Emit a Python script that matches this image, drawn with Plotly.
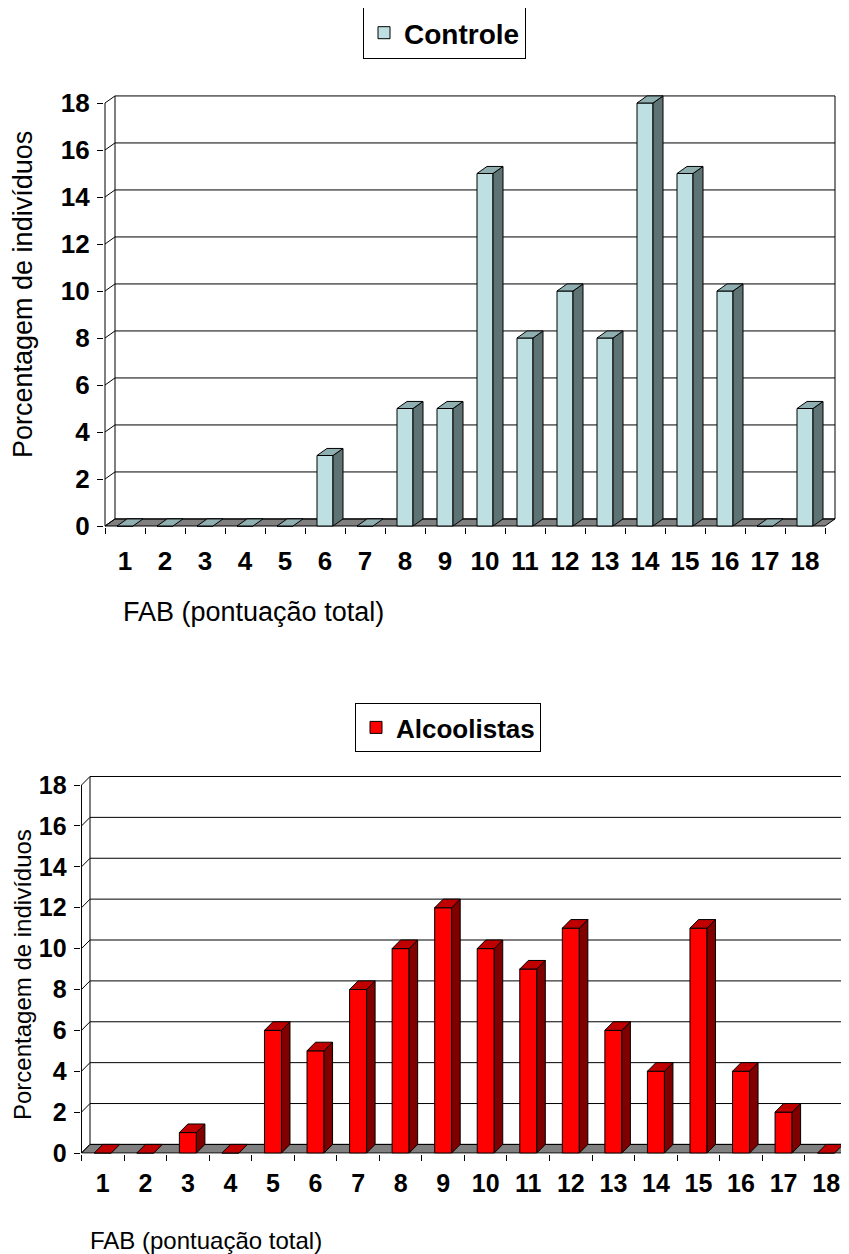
import plotly.graph_objects as go

# ---------------- data ----------------
categories = list(range(1, 19))
tick_labels = [str(c) for c in categories]
controle = [0, 0, 0, 0, 0, 3, 0, 5, 5, 15, 8, 10, 8, 18, 15, 10, 0, 5]
alcoolistas = [0, 0, 1, 0, 6, 5, 8, 10, 12, 10, 9, 11, 6, 4, 11, 4, 2, 0]
y_ticks = list(range(0, 19, 2))
series_names = ["Controle", "Alcoolistas"]
y_title = "Porcentagem de indivíduos"
x_title = "FAB (pontuação total)"

W, H = 849, 1254
OFF = 8  # page body margin offset compensation
FONT = "Arial, Liberation Sans, sans-serif"
BAR_W = 0.4

charts = [
    dict(name=series_names[0], values=controle,
         front="#BEE0E3", side="#5E7373", top="#8FAFB1",
         xpx0=105, cpx=40.0, dx=0.25, xlo=0.47, xhi=18.8,
         ypx0=526, upx=23.5, dy=0.3, ylo=-0.04, yhi=18.36,
         ax="", leg="legend", leg_x=363, leg_y=7, leg_size=28,
         tick_size=26, xstand=16, ytitle_size=27, xtitle_size=27,
         yt_x=23, yt_y=295, xt_x=121, xt_y=612),
    dict(name=series_names[1], values=alcoolistas,
         front="#FF0000", side="#800000", top="#C00000",
         xpx0=81.5, cpx=42.55, dx=0.2, xlo=0.48, xhi=None,
         ypx0=1153, upx=20.44, dy=0.42, ylo=-0.04, yhi=18.47,
         ax="2", leg="legend2", leg_x=355, leg_y=703, leg_size=26,
         tick_size=25, xstand=12, ytitle_size=24, xtitle_size=24,
         yt_x=22, yt_y=975, xt_x=88, xt_y=1240),
]

fig = go.Figure()
shapes = []
annotations = []
layout_extra = {}

for ch in charts:
    xa = "x" + ch["ax"]
    ya = "y" + ch["ax"]
    dx, dy = ch["dx"], ch["dy"]
    cpx, upx = ch["cpx"], ch["upx"]
    xp0 = ch["xpx0"] - OFF
    yp0 = ch["ypx0"] - OFF
    xhi = ch["xhi"] if ch["xhi"] is not None else 0.5 + (W - xp0) / cpx
    left_px = xp0 + (ch["xlo"] - 0.5) * cpx
    right_px = min(W, xp0 + (xhi - 0.5) * cpx)
    bot_px = yp0 - ch["ylo"] * upx
    top_px = yp0 - ch["yhi"] * upx
    x0, x1 = 0.5, len(categories) + 0.5
    ymax = max(y_ticks)

    # floor
    shapes.append(dict(type="path", xref=xa, yref=ya, layer="below",
                       path=f"M {x0},0 L {x1},0 L {x1+dx},{dy} L {x0+dx},{dy} Z",
                       fillcolor="#808080", line=dict(color="black", width=1)))
    # back wall gridlines + left wall diagonals
    for t in y_ticks:
        shapes.append(dict(type="line", xref=xa, yref=ya, layer="below",
                           x0=x0 + dx, x1=x1 + dx, y0=t + dy, y1=t + dy,
                           line=dict(color="black", width=1)))
        shapes.append(dict(type="line", xref=xa, yref=ya, layer="below",
                           x0=x0, x1=x0 + dx, y0=t, y1=t + dy,
                           line=dict(color="black", width=1)))
    # wall verticals and front axis
    shapes.append(dict(type="line", xref=xa, yref=ya, layer="below",
                       x0=x0 + dx, x1=x0 + dx, y0=dy, y1=ymax + dy,
                       line=dict(color="black", width=1)))
    shapes.append(dict(type="line", xref=xa, yref=ya, layer="below",
                       x0=x1 + dx, x1=x1 + dx, y0=dy, y1=ymax + dy,
                       line=dict(color="black", width=1)))
    shapes.append(dict(type="line", xref=xa, yref=ya, layer="below",
                       x0=x0, x1=x0, y0=0, y1=ymax,
                       line=dict(color="black", width=1)))

    vals = ch["values"]
    # front faces
    fig.add_trace(go.Bar(x=categories, y=vals, width=BAR_W, name=ch["name"],
                         marker=dict(color=ch["front"], line=dict(color="black", width=1)),
                         xaxis=xa, yaxis=ya, legend=ch["leg"], showlegend=True,
                         hoverinfo="skip"))
    # side + top faces
    sx, sy = [], []
    tx, ty = [], []
    for c, v in zip(categories, vals):
        r = c + BAR_W / 2
        l = c - BAR_W / 2
        if v > 0:
            sx += [r, r + dx, r + dx, r, r, None]
            sy += [0, dy, v + dy, v, 0, None]
        tx += [l, r, r + dx, l + dx, l, None]
        ty += [v, v, v + dy, v + dy, v, None]
    fig.add_trace(go.Scatter(x=sx, y=sy, mode="lines", fill="toself",
                             fillcolor=ch["side"], line=dict(color="black", width=1),
                             xaxis=xa, yaxis=ya, showlegend=False, hoverinfo="skip"))
    fig.add_trace(go.Scatter(x=tx, y=ty, mode="lines", fill="toself",
                             fillcolor=ch["top"], line=dict(color="black", width=1),
                             xaxis=xa, yaxis=ya, showlegend=False, hoverinfo="skip"))

    tf = dict(family=FONT, size=ch["tick_size"], color="black", weight="bold")
    layout_extra["xaxis" + ch["ax"]] = dict(
        domain=[left_px / W, right_px / W], range=[ch["xlo"], xhi],
        anchor=ya, showgrid=False, zeroline=False, showline=False, automargin=False,
        tickmode="array", tickvals=categories, ticktext=tick_labels, ticks="",
        ticklabelstandoff=ch["xstand"], tickfont=tf,
        minor=dict(tickmode="array", tickvals=[i + 0.5 for i in range(0, len(categories) + 1)],
                   ticks="outside", ticklen=6, tickcolor="black", tickwidth=1, showgrid=False),
    )
    layout_extra["yaxis" + ch["ax"]] = dict(
        domain=[1 - bot_px / H, 1 - top_px / H], range=[ch["ylo"], ch["yhi"]],
        anchor=xa, showgrid=False, zeroline=False, showline=False, automargin=False,
        tickmode="array", tickvals=y_ticks, ticks="outside", ticklen=6,
        tickcolor="black", tickwidth=1, ticklabelstandoff=2, tickfont=tf,
    )
    layout_extra[ch["leg"]] = dict(
        x=(ch["leg_x"] - OFF) / W, y=1 - (ch["leg_y"] - OFF) / H,
        xanchor="left", yanchor="top",
        bordercolor="black", borderwidth=1, bgcolor="white",
        font=dict(family=FONT, size=ch["leg_size"], color="black", weight="bold"),
    )
    annotations.append(dict(text=y_title, xref="paper", yref="paper",
                            x=(ch["yt_x"] - OFF) / W, y=1 - (ch["yt_y"] - OFF) / H,
                            textangle=-90, showarrow=False,
                            xanchor="center", yanchor="middle",
                            font=dict(family=FONT, size=ch["ytitle_size"], color="black")))
    annotations.append(dict(text=x_title, xref="paper", yref="paper",
                            x=(ch["xt_x"] - OFF) / W, y=1 - (ch["xt_y"] - OFF) / H,
                            showarrow=False, xanchor="left", yanchor="middle",
                            font=dict(family=FONT, size=ch["xtitle_size"], color="black")))

fig.update_layout(
    template="none",
    width=W, height=H, margin=dict(l=0, r=0, t=0, b=0, autoexpand=False),
    paper_bgcolor="white", plot_bgcolor="white",
    shapes=shapes, annotations=annotations, barmode="overlay",
    **layout_extra,
)

fig.write_html("out.html")
